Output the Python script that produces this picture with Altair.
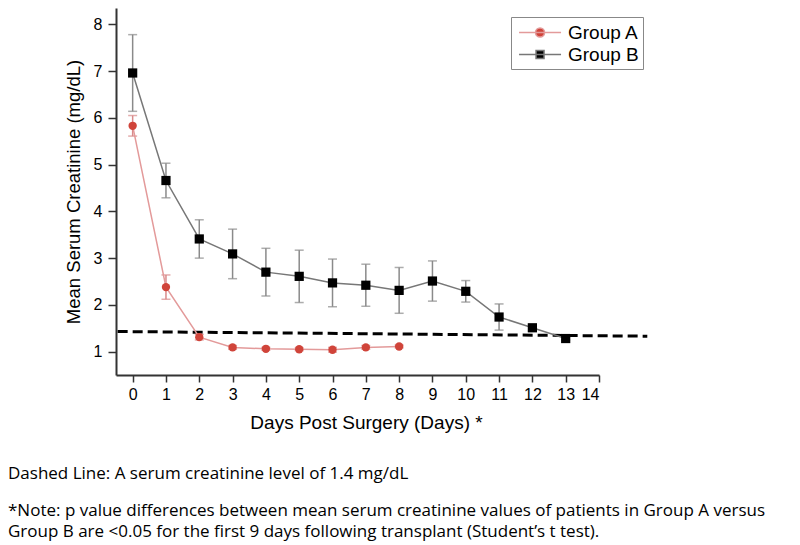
import altair as alt
import pandas as pd

# ---- data ----
days_a = [0, 1, 2, 3, 4, 5, 6, 7, 8]
mean_a = [5.83, 2.38, 1.31, 1.09, 1.06, 1.05, 1.04, 1.09, 1.11]
err_a = [0.22, 0.26, 0.06, 0.04, 0.03, 0.03, 0.05, 0.04, 0.03]

days_b = [0, 1, 2, 3, 4, 5, 6, 7, 8, 9, 10, 11, 12, 13]
mean_b = [6.96, 4.66, 3.41, 3.09, 2.70, 2.61, 2.47, 2.42, 2.31, 2.51, 2.29, 1.74, 1.51, 1.28]
err_b = [0.82, 0.37, 0.41, 0.53, 0.51, 0.56, 0.51, 0.45, 0.49, 0.43, 0.23, 0.28, 0.07, 0.03]

groups = ["Group A", "Group B"]
ref_x = [-0.45, 15.45]
ref_y = [1.43, 1.33]
x_ticks = list(range(0, 15))
y_ticks = list(range(1, 9))

x_title = "Days Post Surgery (Days) *"
y_title = "Mean Serum Creatinine (mg/dL)"
notes = [
    "Dashed Line: A serum creatinine level of 1.4 mg/dL",
    "*Note: p value differences between mean serum creatinine values of patients in Group A versus",
    "Group B are <0.05 for the first 9 days following transplant (Student\u2019s t test).",
]

# ---- tables ----
rows = []
for d, m, e in zip(days_a, mean_a, err_a):
    rows.append({"group": groups[0], "day": d, "mean": m, "lo": m - e, "hi": m + e})
for d, m, e in zip(days_b, mean_b, err_b):
    rows.append({"group": groups[1], "day": d, "mean": m, "lo": m - e, "hi": m + e})
df = pd.DataFrame(rows)
ref_df = pd.DataFrame({"x": [ref_x[0]], "x2": [ref_x[1]], "y": [ref_y[0]], "y2": [ref_y[1]]})

W, H = 483, 367
FONT = "Liberation Sans"
NOTE_FONT = "Open Sans"

xs = alt.Scale(domain=[-0.5, 14], nice=False, zero=False)
ys = alt.Scale(domain=[0.5, 8.35], nice=False, zero=False)

x_axis = alt.Axis(values=x_ticks, grid=False, domainColor="#333", domainWidth=2,
                  tickColor="#333", tickWidth=1.5, tickSize=7, labelPadding=4,
                  labelFont=FONT, labelFontSize=16, labelColor="black", labelAngle=0,
                  title=x_title, titleFont=FONT, titleFontSize=19, titleFontWeight="normal",
                  titleColor="black", titlePadding=11, titleX=250, titleAlign="center")
y_axis = alt.Axis(values=y_ticks, grid=False, domainColor="#333", domainWidth=2,
                  tickColor="#333", tickWidth=1.5, tickSize=8, labelPadding=6,
                  labelFont=FONT, labelFontSize=16, labelColor="black",
                  title=y_title, titleFont=FONT, titleFontSize=18.5, titleFontWeight="normal",
                  titleColor="black", titlePadding=10)

def X(field):
    return alt.X(field, type="quantitative", scale=xs, axis=x_axis)

def Y(field):
    return alt.Y(field, type="quantitative", scale=ys, axis=y_axis)

base = alt.Chart(df)

def series(gname, line_color, err_color, dot_color, shape, size):
    b = base.transform_filter(alt.datum.group == gname)
    line = b.mark_line(color=line_color, strokeWidth=1.5).encode(x=X("day"), y=Y("mean"))
    rule = b.mark_rule(color=err_color, strokeWidth=1.5).encode(
        x=X("day"), y=Y("lo"), y2="hi:Q")
    cap_hi = b.mark_tick(color=err_color, thickness=1.5, size=9, orient="horizontal").encode(
        x=X("day"), y=Y("hi"))
    cap_lo = b.mark_tick(color=err_color, thickness=1.5, size=9, orient="horizontal").encode(
        x=X("day"), y=Y("lo"))
    pts = b.mark_point(shape=shape, filled=True, color=dot_color, size=size, opacity=1).encode(
        x=X("day"), y=Y("mean"))
    return [rule, cap_hi, cap_lo, line, pts]

layers_b = series("Group B", "#777777", "#8a8a8a", "#000000", "square", 85)
layers_a = series("Group A", "#e39a9a", "#d98a8a", "#d0443a", "circle", 70)

ref = alt.Chart(ref_df).mark_rule(color="black", strokeWidth=3, strokeDash=[10, 5]).encode(
    x=X("x"), x2="x2:Q", y=Y("y"), y2="y2:Q")

# legend glyphs: a short line with the marker on it (unit = half the symbol box)
path_a = "M-0.71,0H3.29M0.86,0A0.43,0.43,0,1,1,1.72,0A0.43,0.43,0,1,1,0.86,0Z"
path_b = "M-0.71,0H3.29M0.91,-0.38H1.67V0.38H0.91Z"
legend = alt.Legend(orient="none", legendX=395, legendY=9, title=None,
                    strokeColor="#888", fillColor="white", padding=4,
                    labelFont=FONT, labelFontSize=19, labelColor="black",
                    symbolSize=441, symbolStrokeWidth=1.5, labelOffset=30, rowPadding=0)
leg = base.transform_filter("false").mark_point(filled=True, opacity=1, strokeWidth=1.5).encode(
    x=X("day"), y=Y("mean"),
    fill=alt.Fill("group:N", scale=alt.Scale(domain=groups, range=["#d0443a", "#000000"]), legend=legend),
    stroke=alt.Stroke("group:N", scale=alt.Scale(domain=groups, range=["#e39a9a", "#777777"]), legend=legend),
    shape=alt.Shape("group:N", scale=alt.Scale(domain=groups, range=[path_a, path_b]), legend=legend),
)

note_y = [474, 511, 532]
note_layers = [
    alt.Chart(pd.DataFrame({"text": [t]})).mark_text(
        align="left", baseline="middle", font=NOTE_FONT, fontSize=17, color="black").encode(
        x=alt.value(-108), y=alt.value(yy - 8), text="text:N")
    for t, yy in zip(notes, note_y)
]

chart = alt.layer(ref, *layers_b, *layers_a, leg, *note_layers).properties(
    width=W, height=H,
    autosize=alt.AutoSizeParams(type="none"),
    padding={"left": 108, "top": 0, "right": 193, "bottom": 170},
).configure_view(stroke=None)

chart.save("out.html", embed_options={"renderer": "svg", "actions": False})
